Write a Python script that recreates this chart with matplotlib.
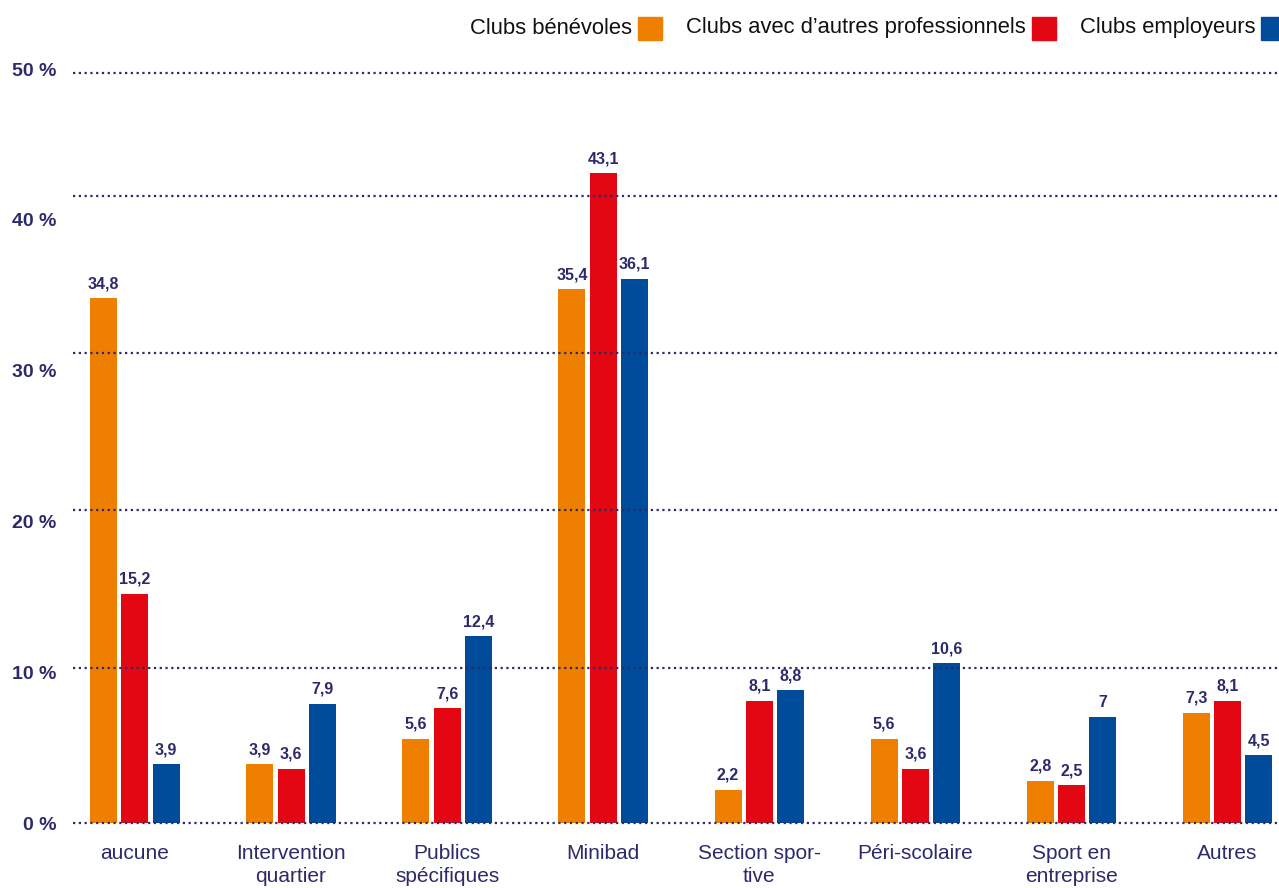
import matplotlib
matplotlib.use("Agg")
import matplotlib.pyplot as plt
from matplotlib.patches import Rectangle
import numpy as np

CATEGORIES = [
    "aucune",
    "Intervention\nquartier",
    "Publics\nspécifiques",
    "Minibad",
    "Section spor-\ntive",
    "Péri-scolaire",
    "Sport en\nentreprise",
    "Autres",
]
SERIES = ["Clubs bénévoles", "Clubs avec d’autres professionnels", "Clubs employeurs"]
BENEVOLES = [34.8, 3.9, 5.6, 35.4, 2.2, 5.6, 2.8, 7.3]
AUTRES_PROS = [15.2, 3.6, 7.6, 43.1, 8.1, 3.6, 2.5, 8.1]
EMPLOYEURS = [3.9, 7.9, 12.4, 36.1, 8.8, 10.6, 7, 4.5]
Y_TICKS = [0, 10, 20, 30, 40, 50]
# dotted guide lines sit slightly off the tick values in the printed layout
GRID_LEVELS = [0, 10.3, 20.75, 31.15, 41.55, 49.75]

COLORS = ["#EE7F00", "#E30613", "#004B9A"]
NAVY = "#2D2A6B"

plt.rcParams["font.family"] = ["Liberation Sans", "DejaVu Sans"]

W, H = 1279, 888
fig = plt.figure(figsize=(W / 100, H / 100), dpi=100)
ax = fig.add_axes([73 / W, 65 / H, (W - 73) / W, 754 / H])

x = np.arange(len(CATEGORIES))
width = 0.173
step = 0.2
for i, (vals, color) in enumerate(zip([BENEVOLES, AUTRES_PROS, EMPLOYEURS], COLORS)):
    pos = x + (i - 1) * step
    ax.bar(pos, vals, width=width, color=color, zorder=2)
    for px, v in zip(pos, vals):
        ax.annotate(f"{v:g}".replace(".", ","), (px, v), xytext=(0, 5),
                    textcoords="offset points", ha="center", va="bottom",
                    fontsize=11.5, fontweight="bold", color=NAVY)

for level in GRID_LEVELS:
    ax.axhline(level, color=NAVY, linestyle=(0, (1, 1.6)), linewidth=1.6,
               zorder=3, clip_on=False)

ax.set_xlim(-0.397, 7.33)
ax.set_ylim(0, 50)
ax.set_yticks(Y_TICKS, [f"{t} %" for t in Y_TICKS])
ax.set_xticks(x, CATEGORIES)
ax.tick_params(axis="y", length=0, pad=12, labelsize=14, labelcolor=NAVY)
ax.tick_params(axis="x", length=0, pad=15, labelsize=15, labelcolor=NAVY)
for lab in ax.get_yticklabels():
    lab.set_fontweight("bold")
for lab in ax.get_xticklabels():
    lab.set_linespacing(1.28)
for spine in ax.spines.values():
    spine.set_visible(False)

# legend along the top edge, laid out from the right: label then colour square
renderer = fig.canvas.get_renderer()
cursor = 1285
sq = 24
y_mid = 28
for name, color in reversed(list(zip(SERIES, COLORS))):
    fig.patches.append(Rectangle((cursor - sq, H - y_mid - 12), sq, 23,
                                 transform=None, color=color))
    cursor -= sq + 6
    t = fig.text(cursor / W, 1 - y_mid / H, name, ha="right", va="center",
                 fontsize=15.8, color="#111111")
    bb = t.get_window_extent(renderer)
    cursor -= bb.width + 24

fig.savefig("out.png", dpi=100)
